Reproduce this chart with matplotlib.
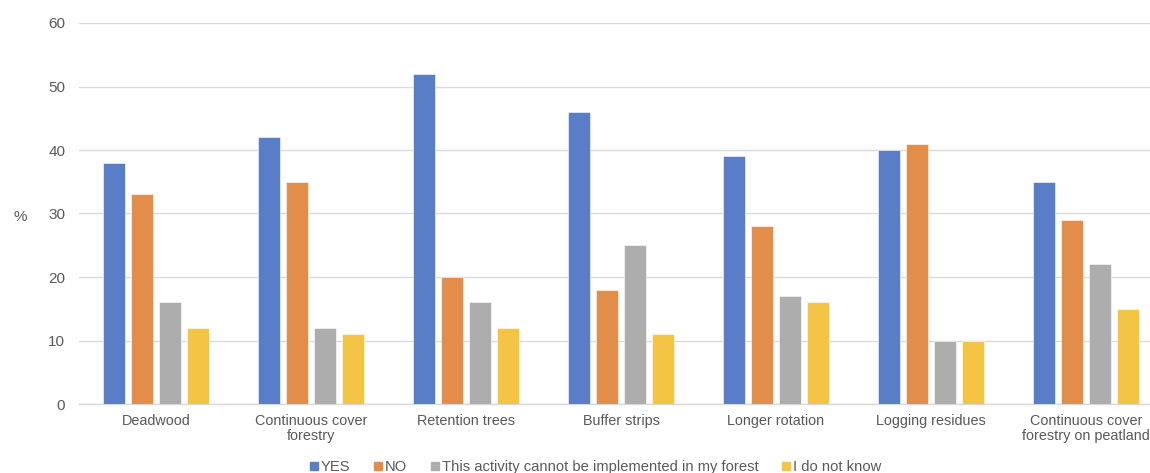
import matplotlib
matplotlib.use("Agg")
import matplotlib.pyplot as plt
from matplotlib.lines import Line2D
import numpy as np

plt.rcParams["font.family"] = ["Liberation Sans", "DejaVu Sans"]

categories = [
    "Deadwood",
    "Continuous cover\nforestry",
    "Retention trees",
    "Buffer strips",
    "Longer rotation",
    "Logging residues",
    "Continuous cover\nforestry on peatland",
]
series_names = [
    "YES",
    "NO",
    "This activity cannot be implemented in my forest",
    "I do not know",
]
yes_vals = [38, 42, 52, 46, 39, 40, 35]
no_vals = [33, 35, 20, 18, 28, 41, 29]
cannot_vals = [16, 12, 16, 25, 17, 10, 22]
unknown_vals = [12, 11, 12, 11, 16, 10, 15]
y_ticks = [0, 10, 20, 30, 40, 50, 60]

colors = ["#5A7DC8", "#E38D4B", "#ADADAD", "#F4C545"]
text_color = "#595959"
grid_color = "#D9D9D9"

fig = plt.figure(figsize=(11.5, 4.73), dpi=100)
# plot area runs past the right edge, as in the cropped original
ax = fig.add_axes([78.5 / 1150, 69 / 473, 1085 / 1150, 381 / 473])

x = np.arange(len(categories))
pitch = 28 / 155
width = 22 / 155
all_vals = [yes_vals, no_vals, cannot_vals, unknown_vals]
for i, vals in enumerate(all_vals):
    ax.bar(x + (i - 1.5) * pitch, vals, width=width, color=colors[i],
           edgecolor="white", linewidth=0.4, zorder=3)

ax.set_xlim(-0.5, len(categories) - 0.5)
ax.set_ylim(0, 60)
ax.set_yticks(y_ticks)
ax.set_xticks(x)
ax.set_xticklabels(categories, fontsize=10.4, color=text_color, linespacing=1.15)
ax.tick_params(axis="y", labelsize=11, labelcolor=text_color, length=0, pad=9.5)
ax.tick_params(axis="x", length=0, pad=7)
ax.grid(axis="y", color=grid_color, linewidth=1, zorder=0)
for side in ["top", "right", "left"]:
    ax.spines[side].set_visible(False)
ax.spines["bottom"].set_color(grid_color)
ax.spines["bottom"].set_linewidth(1)

fig.text(20 / 1150, 1 - 217 / 473, "%", fontsize=11, color=text_color,
         ha="center", va="center")

handles = [Line2D([], [], marker="s", linestyle="none", markersize=5.5,
                  color=c) for c in colors]
fig.legend(handles, series_names, loc="center", ncol=4,
           bbox_to_anchor=(0.518, 6 / 473), frameon=False, fontsize=10.6,
           handlelength=0.5, handletextpad=0.25, columnspacing=1.6,
           labelcolor=text_color)

fig.savefig("out.png", dpi=100)
